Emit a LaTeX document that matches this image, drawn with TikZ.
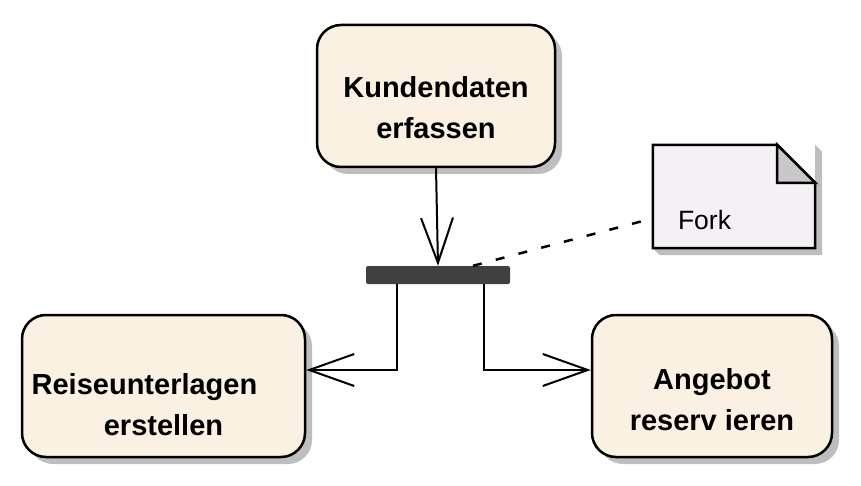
\documentclass[tikz,border=0pt]{standalone}
\usepackage{fontspec}
\setmainfont{Liberation Sans}
\usetikzlibrary{arrows.meta,shadows}
\definecolor{actfill}{HTML}{FBF1E3}
\definecolor{shadowgray}{HTML}{BEBEBE}
\definecolor{barfill}{HTML}{404040}
\definecolor{notefill}{HTML}{F5F0F5}
\definecolor{foldfill}{HTML}{C8C8C8}
\begin{document}
\begin{tikzpicture}[x=1pt,y=-1pt,
  act/.style={draw=black, line width=2.5pt, fill=actfill, rounded corners=24pt,
    align=center, inner sep=0pt, font=\fontsize{29}{41}\selectfont\bfseries,
    drop shadow={shadow xshift=7pt, shadow yshift=-7pt, fill=shadowgray, opacity=1}},
  conn/.style={line width=2pt, -{Straight Barb[length=45pt,width=32pt,line width=2pt]}},
  forkbar/.style={fill=barfill, rounded corners=2pt, minimum width=144pt, minimum height=18pt, inner sep=0pt},
  notebody/.style={minimum width=162pt, minimum height=103pt, inner sep=0pt}
]
\useasboundingbox (0,0) rectangle (861,486);

\node[act, minimum width=238pt, minimum height=142pt] (kunde) at (436,96)
  {\rule{0pt}{45pt}Kundendaten\\erfassen};
\node[act, minimum width=283pt, minimum height=142pt] (reise) at (163.5,386)
  {\rule{0pt}{59pt}Reiseunterlagen\hspace*{38pt}\\erstellen};
\node[act, minimum width=240pt, minimum height=142pt] (angebot) at (712,386)
  {\rule{0pt}{49pt}Angebot\\reserv ieren};

\node[forkbar] (bar) at (438,275) {};

% note
\node[notebody] (note) at (734,196.5) {};
\fill[shadowgray] ([xshift=7pt,yshift=-7pt]note.north east) -- ([xshift=7pt,yshift=-7pt]note.south east)
  -- ([xshift=7pt,yshift=-7pt]note.south west) -- (note.south west) -- (note.south east) -- (note.north east) -- cycle;
\draw[line width=2.5pt, fill=notefill, line join=miter]
  (note.north west) -- ([xshift=-38pt]note.north east) -- ([yshift=-38pt]note.north east)
  -- (note.south east) -- (note.south west) -- cycle;
\draw[line width=2.5pt, fill=foldfill, line join=miter]
  ([xshift=-38pt]note.north east) -- ([xshift=-38pt,yshift=-38pt]note.north east)
  -- ([yshift=-38pt]note.north east) -- cycle;
\node[anchor=base west, inner sep=0pt, font=\fontsize{26.5}{30}\selectfont] (notetext)
  at ([xshift=25pt,yshift=-85pt]note.north west) {Fork};

% connectors
\draw[conn] (kunde.south) -- (bar.north);
\draw[conn] ([xshift=-41pt]bar.south) |- ([yshift=16pt]reise.east);
\draw[conn] ([xshift=46pt]bar.south) |- ([yshift=16pt]angebot.west);
\draw[line width=2.5pt, dash pattern=on 9pt off 14.5pt] ([xshift=35pt]bar.north) -- ([xshift=-12pt,yshift=-25pt]note.west);
\end{tikzpicture}
\end{document}
